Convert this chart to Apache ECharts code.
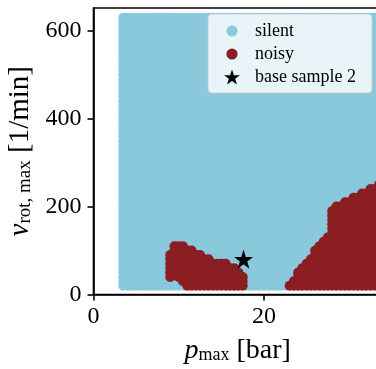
<!DOCTYPE html>
<html>
<head>
<meta charset="utf-8">
<script src="https://cdn.jsdelivr.net/npm/echarts@6/dist/echarts.min.js"></script>
<style>html,body{margin:0;padding:0;background:#fff;}#c{width:376px;height:369px;}</style>
</head>
<body>
<div id="c"></div>
<script>
// Sampled grid (bar, 1/min)
const pGrid = [3.5,4,4.5,5,5.5,6,6.5,7,7.5,8,8.5,9,9.5,10,10.5,11,11.5,12,12.5,13,13.5,14,14.5,15,15.5,16,16.5,17,17.5,18,18.5,19,19.5,20,20.5,21,21.5,22,22.5,23,23.5,24,24.5,25,25.5,26,26.5,27,27.5,28,28.5,29,29.5,30,30.5,31,31.5,32,32.5,33,33.5,34];
const vGrid = [20,30,40,50,60,70,80,90,100,110,120,130,140,150,160,170,180,190,200,210,220,230,240,250,260,270,280,290,300,310,320,330,340,350,360,370,380,390,400,410,420,430,440,450,460,470,480,490,500,510,520,530,540,550,560,570,580,590,600,610,620,630];
// Noisy region 1 (low pressure): per column p, from vLow to vHigh
const noisy1P    = [9,  9.5,10, 10.5,11, 11.5,12, 12.5,13, 13.5,14, 14.5,15, 15.5,16, 16.5,17, 17.5];
const noisy1Low  = [40, 50, 40, 30,  20, 20,  20, 20,  20, 20,  20, 20,  20, 20,  20, 20,  20, 20];
const noisy1High = [90, 110,110,110, 100,100, 90, 90,  80, 80,  70, 70,  70, 70,  60, 60,  50, 40];
// Noisy region 2 (high pressure): per column p, from 20 up to vTop
const noisy2P   = [23, 23.5,24, 24.5,25, 25.5,26, 26.5,27, 27.5,28, 28.5,29, 29.5,30, 30.5,31, 31.5,32, 32.5,33, 33.5,34];
const noisy2Top = [20, 30,  50, 60,  70, 80,  100,110, 120,130, 190,200, 200,210, 210,220, 220,230, 230,240, 240,250, 250];
// Base sample
const baseSample = [[17.6, 80]];

function isNoisy(p, v) {
  const i = noisy1P.indexOf(p);
  if (i >= 0 && v >= noisy1Low[i] && v <= noisy1High[i]) return true;
  const j = noisy2P.indexOf(p);
  if (j >= 0 && v >= 20 && v <= noisy2Top[j]) return true;
  return false;
}
const silentData = [], noisyData = [];
pGrid.forEach(p => vGrid.forEach(v => {
  if (isNoisy(p, v)) noisyData.push([p, v]); else silentData.push([p, v]);
}));

const starPath = 'path://M50,0 L61.8,35.4 L99,35.4 L69,57.3 L80.3,92.7 L50,70.8 L19.7,92.7 L31,57.3 L1,35.4 L38.2,35.4 Z';
const legendCircle = 'path://M0,0 M160,160 M136,80 A56,56 0 1 1 24,80 A56,56 0 1 1 136,80 Z';
const FONT = 'Liberation Serif';
const chart = echarts.init(document.getElementById('c'), null, {renderer: 'canvas'});
chart.setOption({
  animation: false,
  backgroundColor: '#fff',
  grid: {left: 93.5, top: 8, width: 298.4, height: 286.5, outerBoundsMode: 'none', containLabel: false, show: true, borderColor: '#000', borderWidth: 1.6, backgroundColor: 'transparent'},
  xAxis: {
    type: 'value', min: 0, max: 35, interval: 20,
    axisLine: {show: true, onZero: false, lineStyle: {color: '#000', width: 1.6}},
    axisTick: {show: true, inside: false, length: 6, lineStyle: {color: '#000', width: 1.6}, customValues: [0, 20]},
    axisLabel: {customValues: [0, 20], margin: 10, fontFamily: FONT, fontSize: 24, color: '#000'},
    splitLine: {show: false},
    name: '{i|p}{s|max}{n| [bar]}',
    nameLocation: 'middle', nameGap: 42,
    nameTextStyle: {
      padding: [0, 10, 0, 0],
      rich: {
        i: {fontFamily: FONT, fontStyle: 'italic', fontSize: 28, color: '#000', lineHeight: 28},
        s: {fontFamily: FONT, fontSize: 18, color: '#000', lineHeight: 12, verticalAlign: 'bottom'},
        n: {fontFamily: FONT, fontSize: 28, color: '#000', lineHeight: 28}
      }
    }
  },
  yAxis: {
    type: 'value', min: 0, max: 652, interval: 200,
    axisLine: {show: true, onZero: false, lineStyle: {color: '#000', width: 1.6}},
    axisTick: {show: true, inside: false, length: 6, lineStyle: {color: '#000', width: 1.6}, customValues: [0, 200, 400, 600]},
    axisLabel: {customValues: [0, 200, 400, 600], margin: 12, fontFamily: FONT, fontSize: 24, color: '#000'},
    splitLine: {show: false},
    name: '{i|v}{s|rot, max}{n| [1/min]}',
    nameLocation: 'middle', nameGap: 54, nameRotate: 90,
    nameTextStyle: {
      rich: {
        i: {fontFamily: FONT, fontStyle: 'italic', fontSize: 29, color: '#000', lineHeight: 29},
        s: {fontFamily: FONT, fontSize: 19, color: '#000', lineHeight: 12, verticalAlign: 'bottom'},
        n: {fontFamily: FONT, fontSize: 29, color: '#000', lineHeight: 29}
      }
    }
  },
  legend: {
    left: 208, top: 14, orient: 'vertical',
    padding: [8, 16, 7, 16],
    itemWidth: 16, itemHeight: 16, itemGap: 5,
    backgroundColor: 'rgba(255,255,255,0.8)', borderColor: 'rgba(204,204,204,0.8)', borderWidth: 1, borderRadius: 4,
    textStyle: {fontFamily: FONT, fontSize: 18, color: '#000', padding: [0, 0, 0, 10]},
    data: [
      {name: 'silent', icon: legendCircle},
      {name: 'noisy', icon: legendCircle},
      {name: 'base sample 2', icon: starPath, itemStyle: {color: '#000'}}
    ]
  },
  series: [
    {name: 'silent', type: 'scatter', data: silentData, symbol: 'circle', symbolSize: 10, itemStyle: {color: '#8ac8dc', opacity: 1}, silent: true},
    {name: 'noisy', type: 'scatter', data: noisyData, symbol: 'circle', symbolSize: 10, itemStyle: {color: '#8b1e23', opacity: 1}, silent: true},
    {name: 'base sample 2', type: 'scatter', data: baseSample, symbol: starPath, symbolSize: 19, itemStyle: {color: '#000', opacity: 1}, z: 5}
  ]
});
</script>
</body>
</html>
